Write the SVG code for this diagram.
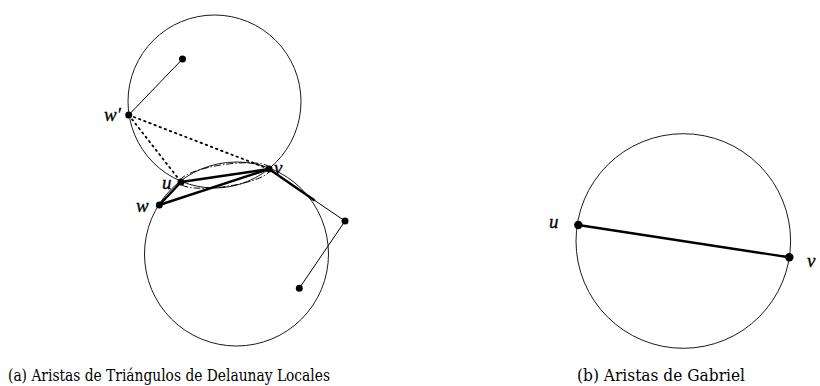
<svg xmlns="http://www.w3.org/2000/svg" width="820" height="386" viewBox="0 0 820 386">
<style>
.circ{fill:none;stroke:#000;stroke-width:0.9}
.thin{stroke:#000;stroke-width:1;fill:none}
.thick{stroke:#000;stroke-width:2.4;fill:none;stroke-linecap:round}
.dot{stroke:#000;stroke-width:1.8;stroke-dasharray:1.5 4;fill:none;stroke-linecap:round}
.lens{fill:none;stroke:#000;stroke-width:0.9;stroke-dasharray:7 2 1.5 2}
.pt{fill:#000}
.lbl{font-family:"Liberation Serif","DejaVu Serif",serif;font-style:italic;font-size:19px;fill:#000;stroke:#000;stroke-width:0.3}
.cap{font-family:"DejaVu Serif","Liberation Serif",serif;font-size:16px;fill:#000}
</style>
<rect width="820" height="386" fill="#fff"/>
<g id="circles">
<circle class="circ" cx="214.5" cy="101.5" r="86.5"/>
<circle class="circ" cx="236.5" cy="254" r="92"/>
<ellipse class="lens" cx="225" cy="175.5" rx="46" ry="11" transform="rotate(-8.4 225 175.5)"/>
<circle class="circ" cx="683.3" cy="241" r="107.3"/>
</g>
<g id="connectors">
<line class="thin" x1="128.7" y1="115" x2="182.5" y2="59"/>
<line class="dot" x1="128.7" y1="115" x2="269" y2="169"/>
<line class="dot" x1="128.7" y1="115" x2="181" y2="182"/>
<line class="thick" x1="181" y1="182" x2="269" y2="169"/>
<line class="thick" x1="159.3" y1="205" x2="269" y2="169"/>
<line class="thick" x1="159.3" y1="205" x2="181" y2="182"/>
<line class="thick" x1="269" y1="169" x2="314" y2="200"/>
<line class="thin" x1="314" y1="200" x2="345" y2="221"/>
<line class="thin" x1="345" y1="221" x2="299.3" y2="288.3"/>
<line class="thick" x1="578.3" y1="225" x2="789.3" y2="257.3"/>
</g>
<g id="node-top"><circle class="pt" cx="182.5" cy="59" r="3.5"/></g>
<g id="node-wp"><circle class="pt" cx="128.7" cy="115" r="3.5"/><text class="lbl" x="104" y="121">w′</text></g>
<g id="node-u"><circle class="pt" cx="181" cy="182" r="3.5"/><text class="lbl" x="162" y="189">u</text></g>
<g id="node-v"><circle class="pt" cx="269" cy="169" r="3.5"/><text class="lbl" x="274" y="174">v</text></g>
<g id="node-w"><circle class="pt" cx="159.3" cy="205" r="3.5"/><text class="lbl" x="136" y="212">w</text></g>
<g id="node-r"><circle class="pt" cx="345" cy="221" r="3.5"/></g>
<g id="node-b"><circle class="pt" cx="299.3" cy="288.3" r="3.5"/></g>
<g id="node-gu"><circle class="pt" cx="578.3" cy="225" r="4.2"/><text class="lbl" x="549" y="228">u</text></g>
<g id="node-gv"><circle class="pt" cx="789.3" cy="257.3" r="4.2"/><text class="lbl" x="807" y="267">v</text></g>
<g id="captions">
<text class="cap" x="8" y="381" textLength="322" lengthAdjust="spacingAndGlyphs">(a) Aristas de Triángulos de Delaunay Locales</text>
<text class="cap" x="577" y="381" textLength="168" lengthAdjust="spacingAndGlyphs">(b) Aristas de Gabriel</text>
</g>
</svg>
